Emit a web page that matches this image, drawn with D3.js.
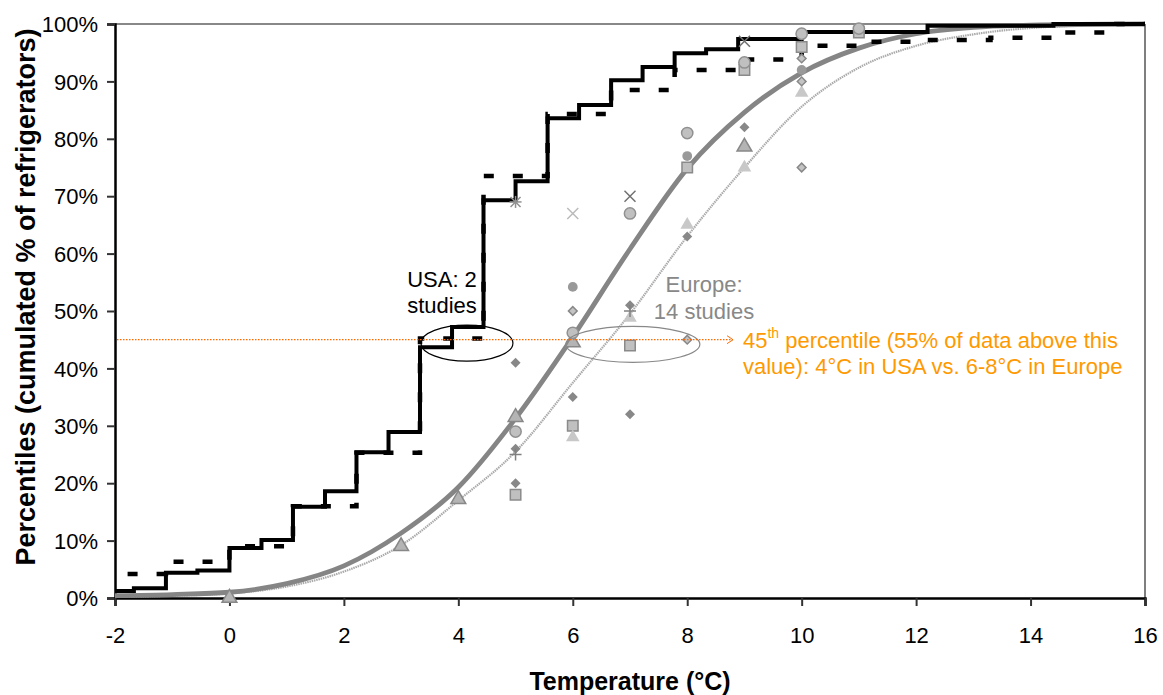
<!DOCTYPE html>
<html><head><meta charset="utf-8">
<script src="https://cdn.jsdelivr.net/npm/d3@7"></script>
<style>
body{margin:0;background:#fff;}
text{font-family:"Liberation Sans",Arial,sans-serif;}
</style></head>
<body><svg id="chart" width="1163" height="695"></svg>
<script>
// ---------- data ----------
const xTicks = [-2,0,2,4,6,8,10,12,14,16];
const yTicks = [0,10,20,30,40,50,60,70,80,90,100];

// USA study 1 (1 °F bins) – step curve, value after each threshold
const usa1T = [-2,-1.67,-1.11,-0.56,0,0.56,1.11,1.67,2.22,2.78,3.33,3.89,4.44,5.0,5.56,6.11,6.67,7.22,7.78,8.33,8.89,10.0,12.2,14.4,16];
const usa1P = [1.2,1.7,4.4,4.8,8.7,10.1,15.9,18.6,25.4,28.9,43.7,47.2,69.3,72.6,83.6,85.9,90.2,92.5,94.9,95.6,97.4,98.6,99.7,100,100];

// USA study 2 (2 °F bins) – dashed step curve
const usa2T = [-1.78,-1.11,0,1.11,2.22,3.33,4.44,5.56,6.67,7.78,8.89,10.0,11.1,12.2,13.3,14.4,15.5,16];
const usa2P = [4.2,6.3,9.0,16.0,25.3,45.2,73.5,84.3,88.5,92.0,93.8,96.2,96.9,97.2,97.6,98.5,100,100];

// Europe fitted curves
const fitT  = [-2,-1,0,1,2,3,4,5,6,7,8,9,10,11,12,13,14,16];
const fitAP = [0.4,0.6,1.0,2.5,5.6,11.3,19.3,31.3,45.5,60.8,74.8,84.6,91.5,95.8,98.3,99.4,99.8,100];
const fitBP = [0.2,0.4,0.8,2.0,4.6,9.2,17.0,25.5,37.5,49.5,63.0,75.0,85.6,92.4,96.2,98.2,99.3,100];

// Europe studies – scattered points [temperature, percentile]
const triOutline    = [[0,0],[3,9],[4,17.2],[5,31.5],[6,44.5],[9,78.6]];
const triLight      = [[6,28],[7,48.8],[8,65],[9,75],[10,88]];
const circleOutline = [[5,29],[6,46.2],[7,67],[8,81],[9,93.3],[10,98.3],[11,99.2]];
const circleFilled  = [[6,54.2],[8,77],[10,92]];
const diamondDark   = [[5,41],[5,26],[5,20],[6,35],[7,51],[7,32],[8,63],[9,82]];
const diamondOutline= [[6,50],[8,45],[10,94],[10,90],[10,75]];
const squares       = [[5,18],[6,30],[7,44],[8,75],[9,92],[10,96],[11,98.5]];
const xDark         = [[7,70],[9,97]];
const xLight        = [[6,67]];
const plusMarks     = [[5,25],[7,50]];
const starMarks     = [[5,69]];

// ---------- layout ----------
const svg = d3.select("#chart");
const L = 115, R = 1145, T = 24, B = 598;
const x = d3.scaleLinear().domain([-2,16]).range([L,R]);
const y = d3.scaleLinear().domain([0,100]).range([B,T]);

// frame (top & right)
svg.append("line").attr("x1",L).attr("x2",R).attr("y1",T).attr("y2",T).attr("stroke","#888").attr("stroke-width",2);
svg.append("line").attr("x1",R).attr("x2",R).attr("y1",T).attr("y2",B).attr("stroke","#555").attr("stroke-width",1.5);

// axes
const yAxis = svg.append("g").attr("transform",`translate(${L},0)`)
  .call(d3.axisLeft(y).tickValues(yTicks).tickFormat(d=>d+"%").tickSize(8).tickPadding(9));
const xAxis = svg.append("g").attr("transform",`translate(0,${B})`)
  .call(d3.axisBottom(x).tickValues(xTicks).tickFormat(d=>d).tickSize(8).tickPadding(17));
[yAxis,xAxis].forEach(g=>{
  g.select(".domain").attr("stroke","#000").attr("stroke-width",2.5);
  g.selectAll(".tick line").attr("stroke","#333").attr("stroke-width",2);
  g.selectAll(".tick text").attr("font-size",22).attr("fill","#000").attr("font-family","Liberation Sans, Arial, sans-serif");
});
xAxis.selectAll(".tick text").attr("dy","0.9em");
yAxis.selectAll(".tick text").attr("dy","0.35em");

svg.append("text").attr("x",630).attr("y",690).attr("text-anchor","middle")
  .attr("font-size",25).attr("font-weight","bold").text("Temperature (°C)");
svg.append("text").attr("transform","translate(35,297) rotate(-90)").attr("text-anchor","middle")
  .attr("font-size",27).attr("font-weight","bold").text("Percentiles (cumulated % of refrigerators)");

// fitted curves
const smooth = d3.line().x(d=>x(d[0])).y(d=>y(d[1])).curve(d3.curveMonotoneX);
svg.append("path").datum(fitT.map((t,i)=>[t,fitBP[i]])).attr("d",smooth)
  .attr("fill","none").attr("stroke","#aaa").attr("stroke-width",2.2).attr("stroke-dasharray","1.5,0.8");
svg.append("path").datum(fitT.map((t,i)=>[t,fitAP[i]])).attr("d",smooth)
  .attr("fill","none").attr("stroke","#858585").attr("stroke-width",4.8);

// step curves
const step = d3.line().x(d=>x(d[0])).y(d=>y(d[1])).curve(d3.curveStepAfter);
svg.append("path").datum(usa2T.map((t,i)=>[t,usa2P[i]])).attr("d",step)
  .attr("fill","none").attr("stroke","#000").attr("stroke-width",4.5).attr("stroke-dasharray","10,19");
svg.append("path").datum(usa1T.map((t,i)=>[t,usa1P[i]])).attr("d",step)
  .attr("fill","none").attr("stroke","#000").attr("stroke-width",4);

// markers
const sym = (type,size)=>d3.symbol().type(type).size(size)();
function pts(data, type, size, fill, stroke, sw, rot){
  svg.append("g").selectAll("path").data(data).join("path")
    .attr("transform",d=>`translate(${x(d[0])},${y(d[1])}) rotate(${rot||0})`)
    .attr("d",sym(type,size)).attr("fill",fill).attr("stroke",stroke||"none").attr("stroke-width",sw||0);
}
pts(squares, d3.symbolSquare, 110, "#c0c0c0", "#8a8a8a", 1.5);
pts(triLight, d3.symbolTriangle, 80, "#c8c8c8");
pts(triOutline, d3.symbolTriangle, 95, "#b4b4b4", "#888", 1.5);
pts(circleOutline, d3.symbolCircle, 100, "#c0c0c0", "#909090", 1.5);
pts(circleFilled, d3.symbolCircle, 75, "#999");
pts(diamondDark, d3.symbolSquare, 50, "#888", null, 0, 45);
pts(diamondOutline, d3.symbolSquare, 38, "#c4c4c4", "#888", 1.5, 45);
function cross(data, color, r, plus){
  const g = svg.append("g").attr("stroke",color).attr("stroke-width",1.5);
  data.forEach(d=>{
    const cx=x(d[0]), cy=y(d[1]);
    if(plus){
      g.append("line").attr("x1",cx-r).attr("x2",cx+r).attr("y1",cy).attr("y2",cy);
      g.append("line").attr("x1",cx).attr("x2",cx).attr("y1",cy-r).attr("y2",cy+r);
    } else {
      g.append("line").attr("x1",cx-r).attr("x2",cx+r).attr("y1",cy-r).attr("y2",cy+r);
      g.append("line").attr("x1",cx-r).attr("x2",cx+r).attr("y1",cy+r).attr("y2",cy-r);
    }
  });
}
cross(xDark, "#707070", 5.5);
cross(xLight, "#bbb", 5.5);
cross(plusMarks, "#808080", 6, true);
cross(starMarks, "#909090", 5);
cross(starMarks, "#909090", 6, true);

// annotations
svg.append("ellipse").attr("cx",x(4.15)).attr("cy",y(44.4)).attr("rx",46).attr("ry",18)
  .attr("fill","none").attr("stroke","#000").attr("stroke-width",1.2);
svg.append("ellipse").attr("cx",x(7.05)).attr("cy",y(44.2)).attr("rx",67).attr("ry",18)
  .attr("fill","none").attr("stroke","#888").attr("stroke-width",1.2);

svg.append("line").attr("x1",L+2).attr("x2",x(8.8)).attr("y1",y(45)).attr("y2",y(45))
  .attr("stroke","#ff6a00").attr("stroke-width",1.2).attr("stroke-dasharray","1.5,1.5");
svg.append("path").attr("d",`M${x(8.8)-6},${y(45)-4}L${x(8.8)},${y(45)}L${x(8.8)-6},${y(45)+4}`)
  .attr("fill","none").attr("stroke","#ff6a00").attr("stroke-width",1);

const usaT = svg.append("text").attr("font-size",22).attr("fill","#000").attr("text-anchor","middle");
usaT.append("tspan").attr("x",442).attr("y",287).text("USA: 2");
usaT.append("tspan").attr("x",442).attr("y",313).text("studies");
const euT = svg.append("text").attr("font-size",22).attr("fill","#888").attr("text-anchor","middle");
euT.append("tspan").attr("x",704).attr("y",292).text("Europe:");
euT.append("tspan").attr("x",704).attr("y",319).text("14 studies");

const orT = svg.append("text").attr("font-size",22).attr("fill","#ff9900");
const l1 = orT.append("tspan").attr("x",743).attr("y",348);
l1.append("tspan").text("45");
l1.append("tspan").attr("font-size",14).attr("dy",-10).text("th");
l1.append("tspan").attr("dy",10).text(" percentile (55% of data above this");
orT.append("tspan").attr("x",743).attr("y",374).text("value): 4°C in USA vs. 6-8°C in Europe");
</script></body></html>
